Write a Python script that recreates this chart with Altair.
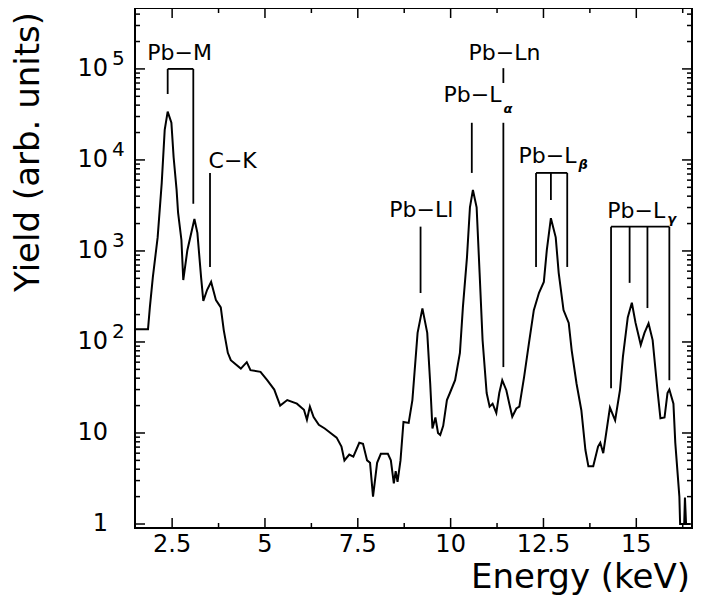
import altair as alt
import pandas as pd

# ---- spectrum ----
energy = [1.50, 1.85, 1.90, 1.98, 2.11, 2.22, 2.30, 2.38, 2.48, 2.54, 2.62, 2.66, 2.75, 2.80, 2.91,
          3.10, 3.18, 3.28, 3.34, 3.44, 3.55, 3.68, 3.81, 3.89, 4.00, 4.08, 4.35, 4.51, 4.61, 4.88,
          5.06, 5.25, 5.41, 5.60, 5.86, 6.05, 6.13, 6.21, 6.31, 6.45, 6.61, 6.74, 6.93, 7.06, 7.14,
          7.27, 7.38, 7.54, 7.64, 7.75, 7.83, 7.91, 8.02, 8.12, 8.31, 8.39, 8.47, 8.52, 8.57, 8.65,
          8.73, 8.87, 8.97, 9.11, 9.24, 9.37, 9.45, 9.51, 9.59, 9.66, 9.72, 9.80, 9.90, 9.98, 10.12,
          10.25, 10.33, 10.44, 10.52, 10.60, 10.70, 10.78, 10.86, 10.97, 11.05, 11.13, 11.23, 11.31,
          11.39, 11.50, 11.58, 11.66, 11.77, 11.85, 11.98, 12.11, 12.24, 12.38, 12.51, 12.59, 12.70,
          12.83, 12.91, 13.04, 13.18, 13.26, 13.39, 13.52, 13.63, 13.71, 13.84, 13.97, 14.03, 14.11,
          14.29, 14.43, 14.56, 14.64, 14.77, 14.88, 14.98, 15.12, 15.22, 15.33, 15.44, 15.57, 15.65,
          15.76, 15.84, 15.89, 16.00, 16.05, 16.16, 16.18, 16.29, 16.31, 16.34, 16.45]
counts = [138, 138, 240, 513, 1410, 5600, 21400, 33900, 25700, 10700, 4680, 2630, 1320, 479, 1020,
          2240, 1580, 513, 282, 372, 457, 288, 240, 135, 76, 63, 51, 60, 49, 47,
          38, 30, 20, 23, 21, 18, 14, 19.5, 15, 12.3, 11.2, 10.2, 8.9, 7.1, 5.0,
          5.8, 5.5, 7.8, 7.6, 5.0, 4.7, 2.0, 4.7, 5.9, 5.9, 5.0, 2.8, 3.8, 2.9, 5.0,
          13.2, 12.9, 23, 126, 234, 126, 35, 11.2, 14.8, 10, 9.5, 12, 23, 27.5, 38,
          76, 240, 850, 3020, 4680, 3020, 575, 105, 27.5, 19.5, 21, 16.6, 27.5,
          38, 29.5, 21, 15.1, 18.6, 19.5, 41.7, 98, 224, 347, 457, 1020, 2290,
          1410, 575, 224, 162, 81, 35, 17.8, 6.5, 4.3, 4.3, 7.1, 7.8, 6.0,
          19, 13.8, 29.5, 69, 186, 270, 162, 93, 126, 160, 105, 29.5, 14.5,
          14.8, 27.5, 30, 21, 7.8, 2.0, 1.0, 1.0, 1.95, 1.0, 1.0]

# ---- axes ----
x_major = [2.5, 5, 7.5, 10, 12.5, 15]
x_tick_labels = ["2.5", "5", "7.5", "10", "12.5", "15"]
x_minor = [3.75, 6.25, 8.75, 11.25, 13.75, 16.25]
y_major = [1, 10, 100, 1000, 10000, 100000]
y_minor = [m * 10 ** k for k in range(6) for m in range(2, 10) if m * 10 ** k < 4.6e5]
y_label_base = ["1", "10", "10", "10", "10", "10"]
y_label_exp = ["", "", "2", "3", "4", "5"]
x_title = "Energy (keV)"
y_title = "Yield (arb. units)"

# ---- line markers ----
vline_x = [2.38, 3.07, 3.52, 9.19, 10.57, 11.42, 11.42, 12.30, 12.70, 13.14, 14.32, 14.82, 15.30, 15.89]
vline_top = [1e5, 1e5, 7200, 1850, 25600, 1.02e5, 25600, 7200, 7200, 7200, 1850, 1850, 1850, 1850]
vline_bot = [5.3e4, 3300, 667, 345, 7200, 7.0e4, 53, 667, 3630, 667, 31, 446, 236, 38]
hline_x1 = [2.38, 12.30, 14.32]
hline_x2 = [3.07, 13.14, 15.89]
hline_y = [1e5, 7200, 1850]

label_text = ["Pb\u2212M", "C\u2212K", "Pb\u2212Ll", "Pb\u2212Ln"]
label_x = [2.70, 4.13, 9.21, 11.45]
label_y = [1.26e5, 8130, 2350, 1.26e5]
sub_label_text = ["Pb\u2212L", "Pb\u2212L", "Pb\u2212L"]
sub_label_sym = ["\u03b1", "\u03b2", "\u03b3"]
sub_label_x = [11.37, 13.39, 15.78]
sub_label_y = [4.35e4, 9300, 2300]
sub_sym_y = [3.3e4, 8000, 2050]

W, H = 557, 520
FONT = "DejaVu Sans"

xscale = alt.Scale(domain=[1.5, 16.5], nice=False, zero=False)
yscale = alt.Scale(type="log", domain=[0.904, 4.67e5], nice=False)

spec = pd.DataFrame({"energy": energy, "counts": counts})

line = alt.Chart(spec).mark_line(color="black", strokeWidth=2).encode(
    x=alt.X("energy:Q", scale=xscale, axis=None),
    y=alt.Y("counts:Q", scale=yscale, axis=None),
)

xmaj = pd.DataFrame({"v": x_major, "t": x_tick_labels})
xmin = pd.DataFrame({"v": x_minor})
ymaj = pd.DataFrame({"v": y_major})
ymin = pd.DataFrame({"v": y_minor})

def xticks(df, length):
    bot = alt.Chart(df).mark_rule(color="black", strokeWidth=1.5).encode(
        x=alt.X("v:Q", scale=xscale, axis=None), y=alt.value(H), y2=alt.value(H - length))
    top = alt.Chart(df).mark_rule(color="black", strokeWidth=1.5).encode(
        x=alt.X("v:Q", scale=xscale, axis=None), y=alt.value(0), y2=alt.value(length))
    return [bot, top]

def yticks(df, length):
    left = alt.Chart(df).mark_rule(color="black", strokeWidth=1.5).encode(
        y=alt.Y("v:Q", scale=yscale, axis=None), x=alt.value(0), x2=alt.value(length))
    right = alt.Chart(df).mark_rule(color="black", strokeWidth=1.5).encode(
        y=alt.Y("v:Q", scale=yscale, axis=None), x=alt.value(W), x2=alt.value(W - length))
    return [left, right]

xlab = alt.Chart(xmaj).mark_text(align="center", baseline="top", font=FONT, fontSize=24,
                                 color="black").encode(
    x=alt.X("v:Q", scale=xscale, axis=None), y=alt.value(H + 5), text="t:N")

ylab = pd.DataFrame({"v": y_major, "base": y_label_base, "exp": y_label_exp})
ylab_base = alt.Chart(ylab).mark_text(align="right", baseline="middle", font=FONT, fontSize=24,
                                      color="black").encode(
    x=alt.value(-27), y=alt.Y("v:Q", scale=yscale, axis=None), text="base:N")
ylab_exp = alt.Chart(ylab).mark_text(align="left", baseline="middle", font=FONT, fontSize=20,
                                     color="black", dy=-10).encode(
    x=alt.value(-23), y=alt.Y("v:Q", scale=yscale, axis=None), text="exp:N")

titles = pd.DataFrame({"xt": [x_title], "yt": [y_title]})
xtitle = alt.Chart(titles).mark_text(align="right", baseline="alphabetic", font=FONT, fontSize=34,
                                     color="black").encode(
    x=alt.value(W - 2), y=alt.value(H + 60), text="xt:N")
ytitle = alt.Chart(titles).mark_text(align="right", baseline="middle", font=FONT, fontSize=34,
                                     color="black", angle=270).encode(
    x=alt.value(-106), y=alt.value(4), text="yt:N")

vl = pd.DataFrame({"x": vline_x, "top": vline_top, "bot": vline_bot})
vrules = alt.Chart(vl).mark_rule(color="black", strokeWidth=1.8).encode(
    x=alt.X("x:Q", scale=xscale, axis=None), y=alt.Y("top:Q", scale=yscale, axis=None), y2="bot:Q")
hl = pd.DataFrame({"x1": hline_x1, "x2": hline_x2, "y": hline_y})
hrules = alt.Chart(hl).mark_rule(color="black", strokeWidth=1.8).encode(
    x=alt.X("x1:Q", scale=xscale, axis=None), x2="x2:Q", y=alt.Y("y:Q", scale=yscale, axis=None))

lab = pd.DataFrame({"t": label_text, "x": label_x, "y": label_y})
labels = alt.Chart(lab).mark_text(align="center", baseline="alphabetic", font=FONT, fontSize=22,
                                  color="black").encode(
    x=alt.X("x:Q", scale=xscale, axis=None), y=alt.Y("y:Q", scale=yscale, axis=None), text="t:N")

slab = pd.DataFrame({"t": sub_label_text, "s": sub_label_sym, "x": sub_label_x,
                     "y": sub_label_y, "sy": sub_sym_y})
slabels = alt.Chart(slab).mark_text(align="right", baseline="alphabetic", font=FONT, fontSize=22,
                                    color="black").encode(
    x=alt.X("x:Q", scale=xscale, axis=None), y=alt.Y("y:Q", scale=yscale, axis=None), text="t:N")
ssyms = alt.Chart(slab).mark_text(align="left", baseline="alphabetic", font=FONT, fontSize=13,
                                  fontWeight="bold", fontStyle="italic", color="black", dx=2).encode(
    x=alt.X("x:Q", scale=xscale, axis=None), y=alt.Y("sy:Q", scale=yscale, axis=None), text="s:N")

layers = [line] + xticks(xmaj, 10) + xticks(xmin, 5) + yticks(ymaj, 10) + yticks(ymin, 5) + \
         [xlab, ylab_base, ylab_exp, xtitle, ytitle, vrules, hrules, labels, slabels, ssyms]

chart = alt.layer(*layers).properties(
    width=W, height=H,
    autosize=alt.AutoSizeParams(type="none"),
    padding={"left": 127, "top": 0, "right": 1, "bottom": 67},
    background="white",
).configure_view(stroke="black", strokeWidth=2)

chart.save("out.html", embed_options={"renderer": "svg", "actions": False})
